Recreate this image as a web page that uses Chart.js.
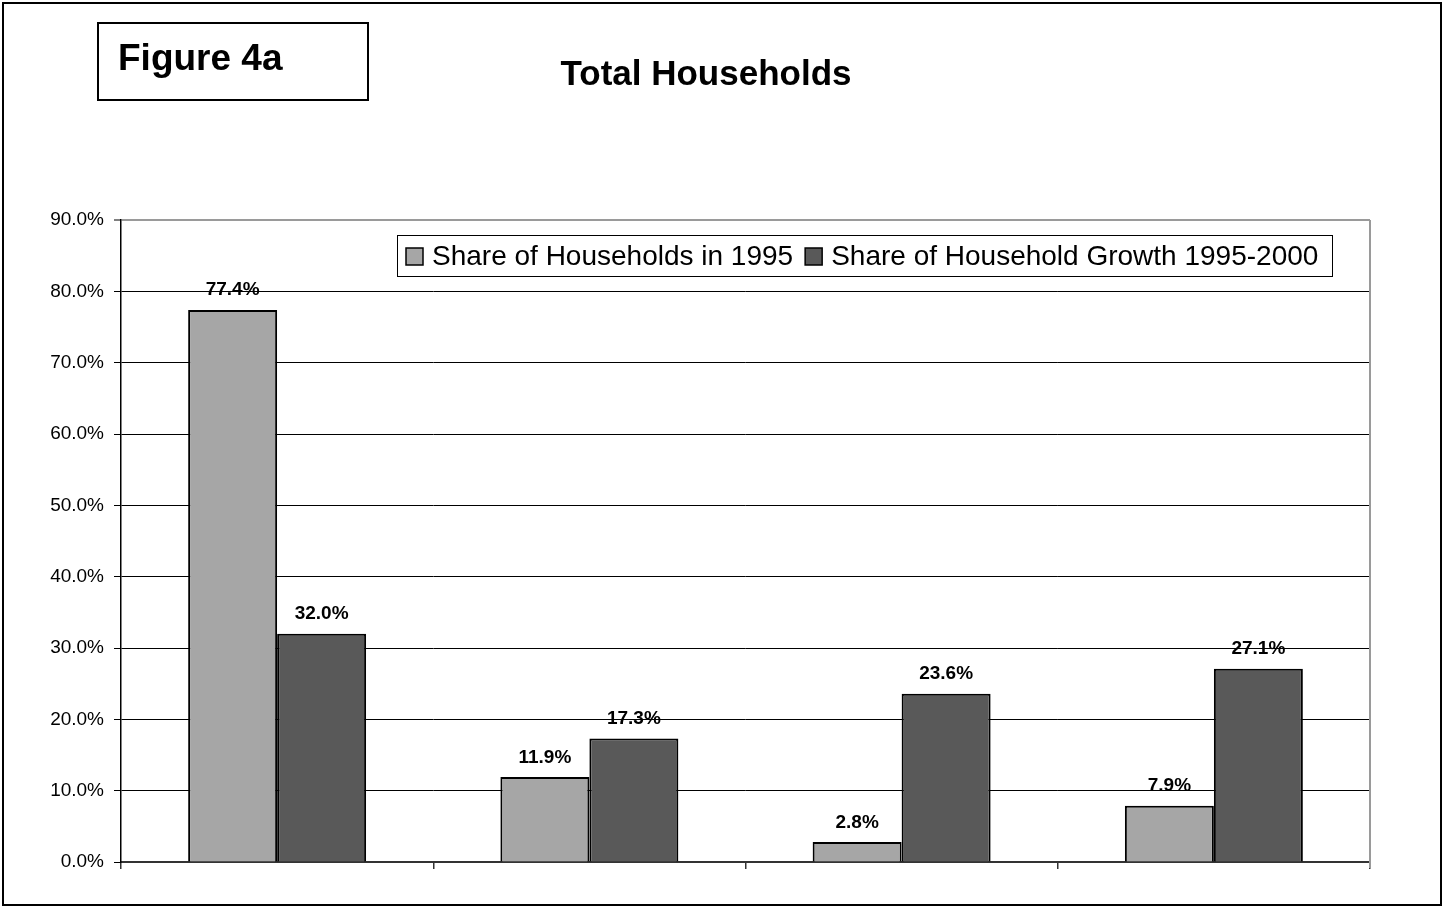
<!DOCTYPE html>
<html>
<head>
<meta charset="utf-8">
<title>Total Households</title>
<script src="https://cdn.jsdelivr.net/npm/chart.js@4.4.1/dist/chart.umd.min.js"></script>
<style>
  html, body { margin: 0; padding: 0; background: #fff; }
  #wrap { width: 1442px; height: 907px; position: relative; }
</style>
</head>
<body>
<div id="wrap"><canvas id="households"></canvas></div>
<script>
// Data
const categories = ["", "", "", ""];
const share1995 = [77.4, 11.9, 2.8, 7.9];
const shareGrowth = [32.0, 17.3, 23.6, 27.1];
const seriesNames = ["Share of Households in 1995", "Share of Household Growth 1995-2000"];
const yTicks = [0, 10, 20, 30, 40, 50, 60, 70, 80, 90];

const FONT = "'Liberation Sans', Arial, sans-serif";

// Frame, figure tag, title, legend box and value labels
const decorations = {
  id: 'decorations',
  afterDatasetsDraw(chart) {
    const c = chart.ctx;
    const area = chart.chartArea;
    c.save();

    // plot area right border (grey)
    c.strokeStyle = '#9a9a9a';
    c.lineWidth = 2;
    c.beginPath();
    c.moveTo(area.right, area.top);
    c.lineTo(area.right, area.bottom + 6);
    c.stroke();

    // value labels above each bar
    c.fillStyle = '#000';
    c.font = 'bold 19px ' + FONT;
    c.textAlign = 'center';
    c.textBaseline = 'alphabetic';
    chart.data.datasets.forEach((ds, i) => {
      chart.getDatasetMeta(i).data.forEach((bar, j) => {
        c.fillText(ds.data[j].toFixed(1) + '%', bar.x, bar.y - 14.5);
      });
    });

    // legend
    const lx = 397, ly = 235, lw = 935, lh = 41;
    c.fillStyle = '#fff';
    c.fillRect(lx, ly, lw, lh);
    c.strokeStyle = '#000';
    c.lineWidth = 1;
    c.strokeRect(lx + 0.5, ly + 0.5, lw, lh);
    c.font = '28px ' + FONT;
    c.textAlign = 'left';
    let x = 406;
    chart.data.datasets.forEach((ds) => {
      c.fillStyle = ds.backgroundColor;
      c.fillRect(x, 248, 17, 17);
      c.strokeStyle = '#000';
      c.lineWidth = 1.5;
      c.strokeRect(x, 248, 17, 17);
      c.fillStyle = '#000';
      c.fillText(ds.label, x + 26, 265);
      x += 26 + c.measureText(ds.label).width + 12;
    });

    // outer frame
    c.strokeStyle = '#000';
    c.lineWidth = 2;
    c.strokeRect(3, 3, 1438, 902);

    // figure tag
    c.strokeRect(98, 23, 270, 77);
    c.font = 'bold 37px ' + FONT;
    c.fillText('Figure 4a', 118, 70);

    // chart title
    c.font = 'bold 35px ' + FONT;
    c.textAlign = 'center';
    c.fillText('Total Households', 706, 85);
    c.restore();
  }
};

new Chart(document.getElementById('households'), {
  type: 'bar',
  data: {
    labels: categories,
    datasets: [
      { label: seriesNames[0], data: share1995, backgroundColor: '#a6a6a6', borderColor: '#000', borderWidth: 2 },
      { label: seriesNames[1], data: shareGrowth, backgroundColor: '#595959', borderColor: '#000', borderWidth: 2 }
    ]
  },
  options: {
    responsive: true,
    maintainAspectRatio: false,
    animation: false,
    datasets: { bar: { categoryPercentage: 0.57, barPercentage: 1.0 } },
    layout: { padding: { left: 0, top: 220, right: 72, bottom: 0 } },
    plugins: { legend: { display: false }, title: { display: false }, tooltip: { enabled: false } },
    scales: {
      x: {
        grid: { offset: true, drawOnChartArea: false, color: '#333', tickLength: 7, lineWidth: 1.5 },
        border: { color: '#333', width: 2 },
        ticks: { display: false },
        afterFit(scale) { scale.height = 45; }
      },
      y: {
        min: 0,
        max: 90,
        afterBuildTicks(scale) { scale.ticks = yTicks.map(v => ({ value: v })); },
        ticks: {
          color: '#000',
          font: { family: FONT, size: 19 },
          padding: 10,
          callback: v => v.toFixed(1) + '%'
        },
        grid: {
          color: ctx => (ctx.tick && ctx.tick.value === 90 ? '#9a9a9a' : '#000'),
          lineWidth: ctx => (ctx.tick && ctx.tick.value === 90 ? 2 : 1),
          tickLength: 7,
          tickColor: '#000',
          tickWidth: 1
        },
        border: { color: '#000', width: 1.5 },
        afterFit(scale) { scale.width = 121; }
      }
    }
  },
  plugins: [decorations]
});
</script>
</body>
</html>
